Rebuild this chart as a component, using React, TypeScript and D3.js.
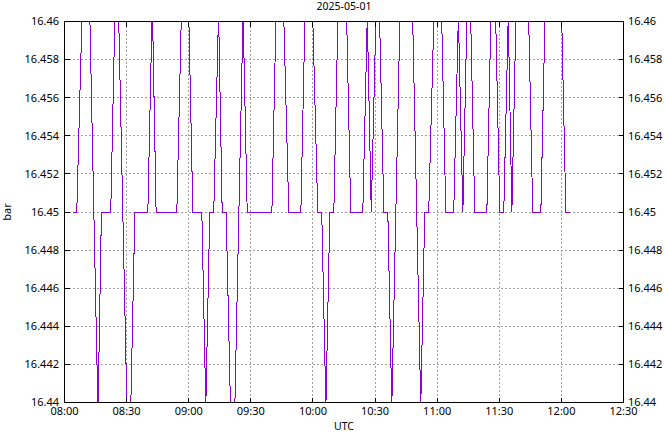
import React from "react";
import * as d3 from "d3";

const DAY = "2025-05-01";
const times = [
  "08:04:00", "08:05:55", "08:10:35", "08:16:10", "08:17:50", "08:22:20", "08:25:15", "08:31:05",
  "08:34:00", "08:40:15", "08:42:25", "08:44:15", "08:54:15", "08:58:20", "09:02:00", "09:06:20",
  "09:08:15", "09:10:10", "09:12:05", "09:14:25", "09:16:10", "09:18:05", "09:21:15", "09:26:15",
  "09:28:15", "09:40:10", "09:43:50", "09:48:20", "09:54:10", "09:57:50", "10:02:20", "10:04:15",
  "10:06:15", "10:08:10", "10:10:05", "10:14:10", "10:18:15", "10:24:05", "10:26:15", "10:28:10",
  "10:31:20", "10:34:15", "10:36:10", "10:38:05", "10:45:05", "10:52:05", "10:54:00", "10:55:55",
  "11:00:30", "11:04:10", "11:08:00", "11:10:15", "11:12:25", "11:15:15", "11:18:10", "11:24:00",
  "11:27:05", "11:30:15", "11:32:10", "11:34:20", "11:36:05", "11:41:05", "11:46:10", "11:50:05",
  "11:56:05", "12:02:10", "12:04:05",
];
const values = [
  16.45, 16.45, 16.469, 16.4395, 16.45, 16.45, 16.465, 16.435,
  16.45, 16.45, 16.461, 16.45, 16.45, 16.4692, 16.45, 16.45,
  16.4398, 16.45, 16.45, 16.4605, 16.45, 16.45, 16.4345, 16.4605,
  16.45, 16.45, 16.469, 16.45, 16.45, 16.469, 16.45, 16.45,
  16.4398, 16.45, 16.45, 16.4712, 16.45, 16.45, 16.4603, 16.45,
  16.4644, 16.45, 16.45, 16.4398, 16.4762, 16.4398, 16.45, 16.45,
  16.4688, 16.45, 16.45, 16.4603, 16.45, 16.465, 16.45, 16.45,
  16.4662, 16.45, 16.45, 16.4603, 16.45, 16.4762, 16.45, 16.45,
  16.4807, 16.45, 16.45,
];
const yTicks = [16.44, 16.442, 16.444, 16.446, 16.448, 16.45, 16.452, 16.454, 16.456, 16.458, 16.46];
const yTickLabels = ["16.44", "16.442", "16.444", "16.446", "16.448", "16.45", "16.452", "16.454", "16.456", "16.458", "16.46"];
const xTickLabels = ["08:00", "08:30", "09:00", "09:30", "10:00", "10:30", "11:00", "11:30", "12:00", "12:30"];

const W = 665;
const H = 432;
const L = 64.5;
const R = 623.5;
const T = 21.5;
const B = 402.5;
const FONT = "'Noto Sans', 'Open Sans', sans-serif";
const COLOR = "#9400d3";

export default function App() {
  const parse = d3.timeParse("%Y-%m-%d %H:%M:%S");
  const x = d3
    .scaleTime()
    .domain([parse(`${DAY} 08:00:00`)!, parse(`${DAY} 12:30:00`)!])
    .range([L, R]);
  const y = d3.scaleLinear().domain([16.44, 16.46]).range([B, T]);
  const data = times.map((t, i) => ({ t: parse(`${DAY} ${t}`)!, v: values[i] }));
  const line = d3
    .line<{ t: Date; v: number }>()
    .x((d) => x(d.t))
    .y((d) => y(d.v));
  const xTicks = xTickLabels.map((s) => parse(`${DAY} ${s}:00`)!);
  const snap = (v: number) => Math.floor(v) + 0.5;

  return (
    <svg
      width={W}
      height={H}
      style={{ position: "absolute", left: 0, top: 0, background: "#fff" }}
      fontFamily={FONT}
      fontSize={11}
    >
      <defs>
        <clipPath id="plot">
          <rect x={L} y={T} width={R - L} height={B - T} />
        </clipPath>
      </defs>
      <rect x={0} y={0} width={W} height={H} fill="#fff" />
      {/* grid */}
      <g stroke="#a0a0a0" strokeWidth={1} strokeDasharray="2,2" shapeRendering="crispEdges">
        {yTicks.slice(1, -1).map((v, i) => (
          <line key={"gy" + i} x1={L} x2={R} y1={snap(y(v))} y2={snap(y(v))} />
        ))}
        {xTicks.slice(1, -1).map((t, i) => (
          <line key={"gx" + i} y1={T} y2={B} x1={snap(x(t))} x2={snap(x(t))} />
        ))}
      </g>
      {/* data */}
      <g clipPath="url(#plot)">
        <path d={line(data) ?? ""} fill="none" stroke={COLOR} strokeWidth={1} shapeRendering="crispEdges" />
      </g>
      {/* border & ticks */}
      <g stroke="#000" strokeWidth={1} shapeRendering="crispEdges">
        <rect x={L} y={T} width={R - L} height={B - T} fill="none" />
        {yTicks.map((v, i) => (
          <g key={"ty" + i}>
            <line x1={L} x2={L + 5} y1={snap(y(v))} y2={snap(y(v))} />
            <line x1={R - 5} x2={R} y1={snap(y(v))} y2={snap(y(v))} />
          </g>
        ))}
        {xTicks.map((t, i) => (
          <g key={"tx" + i}>
            <line y1={B} y2={B - 5} x1={snap(x(t))} x2={snap(x(t))} />
            <line y1={T} y2={T + 5} x1={snap(x(t))} x2={snap(x(t))} />
          </g>
        ))}
      </g>
      {/* labels */}
      <g fill="#000">
        {yTicks.map((v, i) => (
          <text key={"ly" + i} x={59} y={y(v)} dy="0.35em" textAnchor="end">
            {yTickLabels[i]}
          </text>
        ))}
        {yTicks.map((v, i) => (
          <text key={"ry" + i} x={628} y={y(v)} dy="0.35em" textAnchor="start">
            {yTickLabels[i]}
          </text>
        ))}
        {xTicks.map((t, i) => (
          <text key={"lx" + i} x={x(t)} y={415} textAnchor="middle">
            {xTickLabels[i]}
          </text>
        ))}
        <text x={(L + R) / 2} y={10} fontSize={10.5} textAnchor="middle">
          {DAY}
        </text>
        <text x={(L + R) / 2} y={429.5} fontSize={10.5} textAnchor="middle">
          UTC
        </text>
        <text transform={`translate(11, ${y(16.45)}) rotate(-90)`} textAnchor="middle">
          bar
        </text>
      </g>
    </svg>
  );
}
